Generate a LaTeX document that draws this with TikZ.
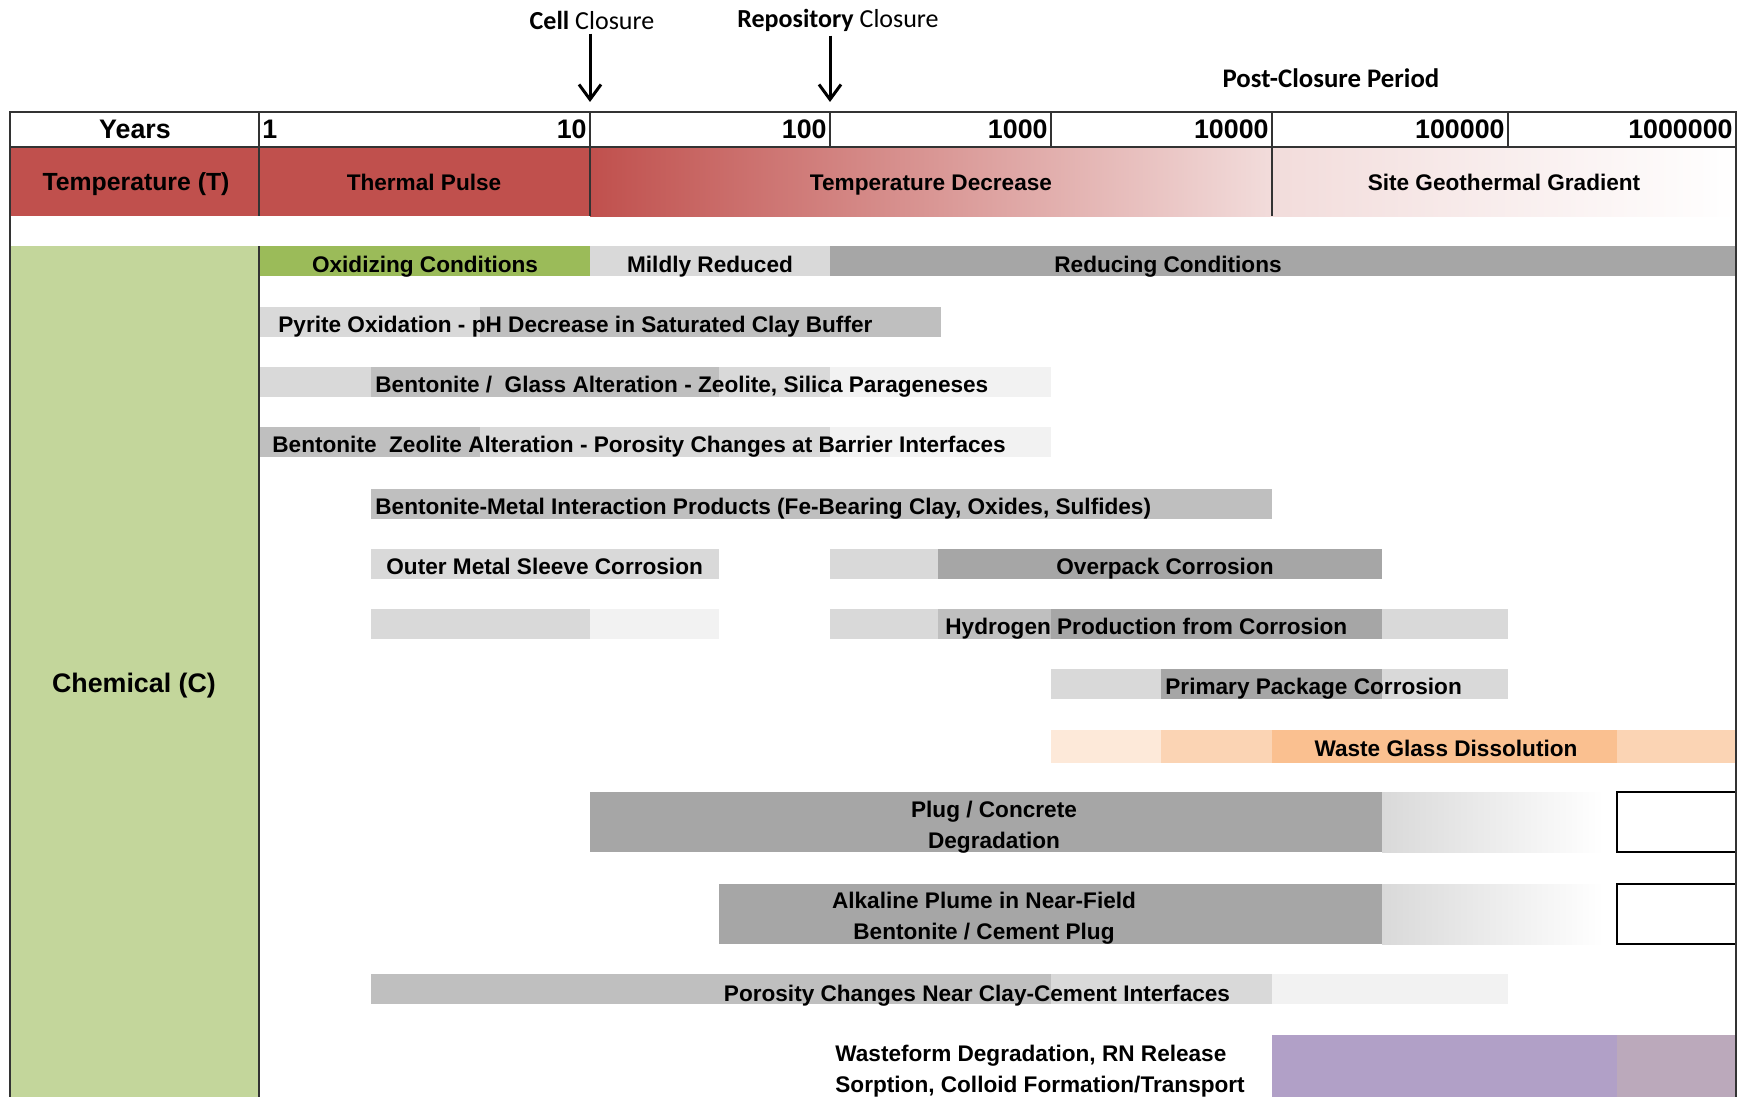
\documentclass[tikz,border=0pt]{standalone}
\usepackage{fontspec}
\setmainfont{Liberation Sans}
\newfontfamily\calibri{Carlito}
\usetikzlibrary{arrows.meta}

\definecolor{temp_red}{HTML}{C0504D}
\definecolor{temp_pink}{HTML}{F2DCDB}
\definecolor{chem_green}{HTML}{C3D69B}
\definecolor{ox_green}{HTML}{9BBB59}
\definecolor{grey_xl}{HTML}{F2F2F2}
\definecolor{grey_lt}{HTML}{D9D9D9}
\definecolor{grey_md}{HTML}{BFBFBF}
\definecolor{grey_dk}{HTML}{A6A6A6}
\definecolor{peach_lt}{HTML}{FDE9D9}
\definecolor{peach_md}{HTML}{FBD4B4}
\definecolor{peach_dk}{HTML}{FAC090}
\definecolor{lilac}{HTML}{B1A0C7}
\definecolor{lilac_grey}{HTML}{BBA9BB}

\begin{document}
\begin{tikzpicture}[x=0.5pt, y=-0.5pt,
    grid_line/.style={black!80, line width=0.7pt},
    row_label/.style={font=\fontsize{13.4}{16}\selectfont\bfseries, inner sep=0pt, text height=9.6pt, text depth=0pt},
    year_label/.style={font=\fontsize{13.4}{16}\selectfont\bfseries, inner sep=1.5pt},
    bar_text/.style={font=\fontsize{11.3}{15.5}\selectfont\bfseries, inner sep=0pt},
    bar_label/.style={bar_text, text height=9pt, text depth=0pt},
    event_label/.style={font=\calibri\fontsize{13}{16}\selectfont, inner sep=0pt},
    event_arrow/.style={-{Straight Barb[length=7.5pt, width=11pt]}, line width=1.5pt}
]
    \useasboundingbox (0,0) rectangle (1745,1097);
    % Eventos
    \node[event_label] (cell_lbl) at (592,20) {\bfseries Cell \mdseries Closure};
    \node[event_label] (repo_lbl) at (838,20) {\bfseries Repository \mdseries Closure};
    \node[event_label, font=\calibri\fontsize{13.4}{16}\selectfont\bfseries] (post_lbl) at (1331,78) {Post-Closure Period};
    \coordinate (cell_pt) at (590,102);
    \coordinate (repo_pt) at (830,102);
    \draw[event_arrow] (cell_pt |- cell_lbl.south) ++(0,4) -- (cell_pt);
    \draw[event_arrow] (repo_pt |- repo_lbl.south) ++(0,4) -- (repo_pt);
    % Temperatura
    \fill[temp_red] (10,147) rectangle (590,216);
    \shade[left color=temp_red, right color=temp_pink] (590,147) rectangle (1272,216);
    \shade[left color=temp_pink, right color=white] (1272,147) rectangle (1736,216);
    % Quimica
    \fill[chem_green] (10,246) rectangle (259,1097);
    \fill[ox_green] (259,246) rectangle (590,276);
    \fill[grey_lt] (590,246) rectangle (830,276);
    \fill[grey_dk] (830,246) rectangle (1736,276);
    \fill[grey_lt] (260,307) rectangle (480,337);
    \fill[grey_md] (480,307) rectangle (941,337);
    \fill[grey_lt] (260,367) rectangle (371,397);
    \fill[grey_md] (371,367) rectangle (719,397);
    \fill[grey_lt] (719,367) rectangle (830,397);
    \fill[grey_xl] (830,367) rectangle (1051,397);
    \fill[grey_md] (260,427) rectangle (480,457);
    \fill[grey_lt] (480,427) rectangle (830,457);
    \fill[grey_xl] (830,427) rectangle (1051,457);
    \fill[grey_md] (371,489) rectangle (1272,519);
    \fill[grey_lt] (371,549) rectangle (719,579);
    \fill[grey_lt] (830,549) rectangle (938,579);
    \fill[grey_dk] (938,549) rectangle (1382,579);
    \fill[grey_lt] (371,609) rectangle (590,639);
    \fill[grey_xl] (590,609) rectangle (719,639);
    \fill[grey_lt] (830,609) rectangle (938,639);
    \fill[grey_md] (938,609) rectangle (1051,639);
    \fill[grey_dk] (1051,609) rectangle (1382,639);
    \fill[grey_lt] (1382,609) rectangle (1508,639);
    \fill[grey_lt] (1051,669) rectangle (1161,699);
    \fill[grey_dk] (1161,669) rectangle (1382,699);
    \fill[grey_lt] (1382,669) rectangle (1508,699);
    \fill[peach_lt] (1051,730) rectangle (1161,763);
    \fill[peach_md] (1161,730) rectangle (1272,763);
    \fill[peach_dk] (1272,730) rectangle (1617,763);
    \fill[peach_md] (1617,730) rectangle (1736,763);
    \fill[grey_dk] (590,792) rectangle (1382,852);
    \shade[left color=grey_lt, right color=white] (1382,792) rectangle (1603,852);
    \draw[line width=0.7pt] (1736,792) -- (1617,792) -- (1617,852) -- (1736,852);
    \fill[grey_dk] (719,884) rectangle (1382,944);
    \shade[left color=grey_lt, right color=white] (1382,884) rectangle (1603,944);
    \draw[line width=0.7pt] (1736,884) -- (1617,884) -- (1617,944) -- (1736,944);
    \fill[grey_md] (371,974) rectangle (1051,1004);
    \fill[grey_lt] (1051,974) rectangle (1272,1004);
    \fill[grey_xl] (1272,974) rectangle (1508,1004);
    \fill[lilac] (1272,1035) rectangle (1617,1097);
    \fill[lilac_grey] (1617,1035) rectangle (1736,1097);
    % Grade
    \draw[grid_line] (10,1097) -- (10,112) -- (1736,112) -- (1736,1097);
    \draw[grid_line] (10,147) -- (1736,147);
    \draw[grid_line] (259,112) -- (259,216);
    \draw[grid_line] (259,246) -- (259,1097);
    \foreach \x in {590,830,1051,1272,1508}
        \draw[grid_line] (\x,112) -- (\x,147);
    \draw[grid_line] (590,147) -- (590,216);
    \draw[grid_line] (1272,147) -- (1272,216);
    % Anos
    \node[row_label] (years) at (135,129) {Years};
    \node[year_label, anchor=west] (yr1) at (259,129) {1};
    \foreach \x/\yr in {590/10, 830/100, 1051/1000, 1272/10000, 1508/100000, 1736/1000000}
        \node[year_label, anchor=east] (yr\yr) at (\x,129) {\yr};
    % Rotulos
    \node[row_label, font=\fontsize{12.4}{15}\selectfont\bfseries, text height=8.9pt] (temp) at (136,182) {Temperature (T)};
    \node[bar_label] (pulse) at (424,182) {Thermal Pulse};
    \node[bar_label] (decrease) at (931,182) {Temperature Decrease};
    \node[bar_label] (geotherm) at (1504,182) {Site Geothermal Gradient};
    \node[row_label] (chem) at (134,683) {Chemical (C)};
    \node[bar_label] (oxid) at (425,263) {Oxidizing Conditions};
    \node[bar_label] (mild) at (710,263) {Mildly Reduced};
    \node[bar_label] (reduc) at (1168,263) {Reducing Conditions};
    \node[bar_label, anchor=west] (pyrite) at (278,323) {Pyrite Oxidation - pH Decrease in Saturated Clay Buffer};
    \node[bar_label, anchor=west] (glass) at (375,383) {Bentonite / \ Glass Alteration - Zeolite, Silica Parageneses};
    \node[bar_label, anchor=west] (zeolite) at (272,443) {Bentonite \ Zeolite Alteration - Porosity Changes at Barrier Interfaces};
    \node[bar_label, anchor=west] (metal) at (375,505) {Bentonite-Metal Interaction Products (Fe-Bearing Clay, Oxides, Sulfides)};
    \node[bar_label, anchor=west] (sleeve) at (386,565) {Outer Metal Sleeve Corrosion};
    \node[bar_label] (overpack) at (1165,565) {Overpack Corrosion};
    \node[bar_label, anchor=west] (hydrogen) at (945,625) {Hydrogen Production from Corrosion};
    \node[bar_label, anchor=west] (primary) at (1165,685) {Primary Package Corrosion};
    \node[bar_label] (wasteglass) at (1446,747) {Waste Glass Dissolution};
    \node[bar_text, align=center] (plug) at (994,827) {Plug / Concrete\\Degradation};
    \node[bar_text, align=center] (plume) at (984,918) {Alkaline Plume in Near-Field\\Bentonite / Cement Plug};
    \node[bar_label] (porosity) at (977,992) {Porosity Changes Near Clay-Cement Interfaces};
    \node[bar_text, align=left, anchor=west] (wasteform) at (835,1071) {Wasteform Degradation, RN Release\\Sorption, Colloid Formation/Transport};
\end{tikzpicture}
\end{document}
